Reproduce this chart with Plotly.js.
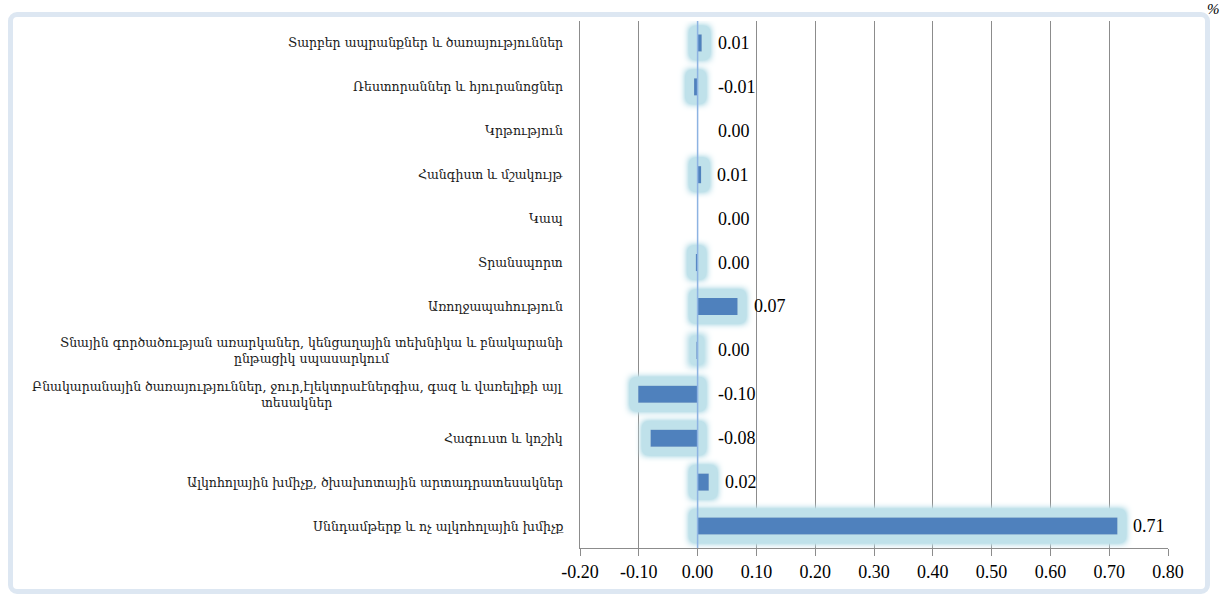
<!DOCTYPE html>
<html>
<head>
<meta charset="utf-8">
<script src="https://cdn.plot.ly/plotly-3.0.1.min.js"></script>
<style>
  html, body { margin: 0; padding: 0; background: #ffffff; }
  #wrap { position: relative; width: 1222px; height: 599px; overflow: hidden; }
  #chart { position: absolute; left: 0; top: 0; width: 1222px; height: 599px; }
  #frame { position: absolute; left: 8px; top: 12px; width: 1192px; height: 572px;
           border: 5px solid #dde7f2; border-radius: 9px; pointer-events: none; }
</style>
</head>
<body>
<svg width="0" height="0" style="position:absolute">
  <defs>
    <filter id="glow" filterUnits="userSpaceOnUse" x="-3000" y="-3000" width="8000" height="8000">
      <feMorphology in="SourceAlpha" operator="dilate" radius="8" result="d"/>
      <feGaussianBlur in="d" stdDeviation="3.5" result="b"/>
      <feComponentTransfer in="b" result="t">
        <feFuncA type="linear" slope="2.4" intercept="0"/>
      </feComponentTransfer>
      <feFlood flood-color="#bfe1ea" flood-opacity="1"/>
      <feComposite in2="t" operator="in" result="g"/>
      <feMerge><feMergeNode in="g"/><feMergeNode in="SourceGraphic"/></feMerge>
    </filter>
  </defs>
</svg>
<div id="wrap">
  <div id="chart"></div>
  <div id="frame"></div>
</div>
<script>
// Categories, top to bottom
const categories = [
  "Տարբեր ապրանքներ և ծառայություններ",
  "Ռեստորաններ և հյուրանոցներ",
  "Կրթություն",
  "Հանգիստ և մշակույթ",
  "Կապ",
  "Տրանսպորտ",
  "Առողջապահություն",
  "Տնային գործածության առարկաներ, կենցաղային տեխնիկա և բնակարանի<br>ընթացիկ սպասարկում",
  "Բնակարանային ծառայություններ, ջուր,էլեկտրաէներգիա, գազ և վառելիքի այլ<br>տեսակներ",
  "Հագուստ և կոշիկ",
  "Ալկոհոլային խմիչք, ծխախոտային արտադրատեսակներ",
  "Սննդամթերք և ոչ ալկոհոլային խմիչք"
];
const values = [0.007, -0.006, 0.0, 0.006, 0.0, -0.003, 0.068, -0.002, -0.101, -0.080, 0.019, 0.714];
const valueLabels = ["0.01", "-0.01", "0.00", "0.01", "0.00", "0.00", "0.07", "0.00", "-0.10", "-0.08", "0.02", "0.71"];
const xTickValues = [-0.2, -0.1, 0, 0.1, 0.2, 0.3, 0.4, 0.5, 0.6, 0.7, 0.8];
const xTickText = ["-0.20", "-0.10", "0.00", "0.10", "0.20", "0.30", "0.40", "0.50", "0.60", "0.70", "0.80"];

const numFont = "'Liberation Serif', 'DejaVu Serif', serif";
const catFont = "'DejaVu Serif', 'Liberation Serif', serif";

const trace = {
  type: 'bar',
  orientation: 'h',
  x: values,
  y: categories,
  marker: { color: '#4f81bd', line: { width: 0 } },
  hoverinfo: 'skip'
};

const annotations = [];
categories.forEach((c, i) => {
  annotations.push({
    xref: 'paper', yref: 'y', x: 0, y: c, xanchor: 'right', yanchor: 'middle',
    xshift: -15, align: 'center', showarrow: false, text: c,
    font: { family: catFont, size: 12.5, color: '#1a1a1a' }
  });
  const v = values[i];
  annotations.push({
    xref: 'x', yref: 'y', x: Math.max(v, 0), y: c, xanchor: 'left', yanchor: 'middle',
    xshift: v > 0 ? 14 : 18, showarrow: false, text: valueLabels[i],
    font: { family: numFont, size: 18, color: '#000000' }
  });
});
annotations.push({
  xref: 'paper', yref: 'paper', x: 1.078, y: 1.022, xanchor: 'center', yanchor: 'middle',
  showarrow: false, text: '<i>%</i>', font: { family: numFont, size: 15, color: '#000' }
});

const layout = {
  width: 1222, height: 599,
  margin: { l: 580, r: 54, t: 21, b: 51, pad: 0 },
  paper_bgcolor: 'rgba(0,0,0,0)', plot_bgcolor: '#ffffff',
  showlegend: false,
  bargap: 0.61,
  xaxis: {
    range: [-0.2, 0.8], tickvals: xTickValues, ticktext: xTickText,
    showgrid: true, gridcolor: '#8c8c8c', gridwidth: 1,
    zeroline: false,
    showline: true, linecolor: '#8c8c8c', linewidth: 1,
    ticks: 'outside', ticklen: 7, tickcolor: '#8c8c8c',
    tickfont: { family: numFont, size: 18, color: '#000' },
    fixedrange: true
  },
  yaxis: {
    type: 'category', autorange: 'reversed',
    showticklabels: false, showgrid: false, zeroline: false,
    showline: true, linecolor: '#8c8c8c', linewidth: 1,
    ticks: '', fixedrange: true
  },
  shapes: [{
    type: 'line', layer: 'above', xref: 'x', yref: 'paper',
    x0: 0, x1: 0, y0: 0, y1: 1,
    line: { color: '#8db3e2', width: 1.5 }
  }],
  annotations: annotations
};

function applyGlow() {
  document.querySelectorAll('#chart .bars .point path').forEach(p => {
    p.style.filter = 'url(#glow)';
  });
}

Plotly.newPlot('chart', [trace], layout, { displayModeBar: false, staticPlot: true }).then(gd => {
  applyGlow();
  gd.on('plotly_afterplot', applyGlow);
});
</script>
</body>
</html>
